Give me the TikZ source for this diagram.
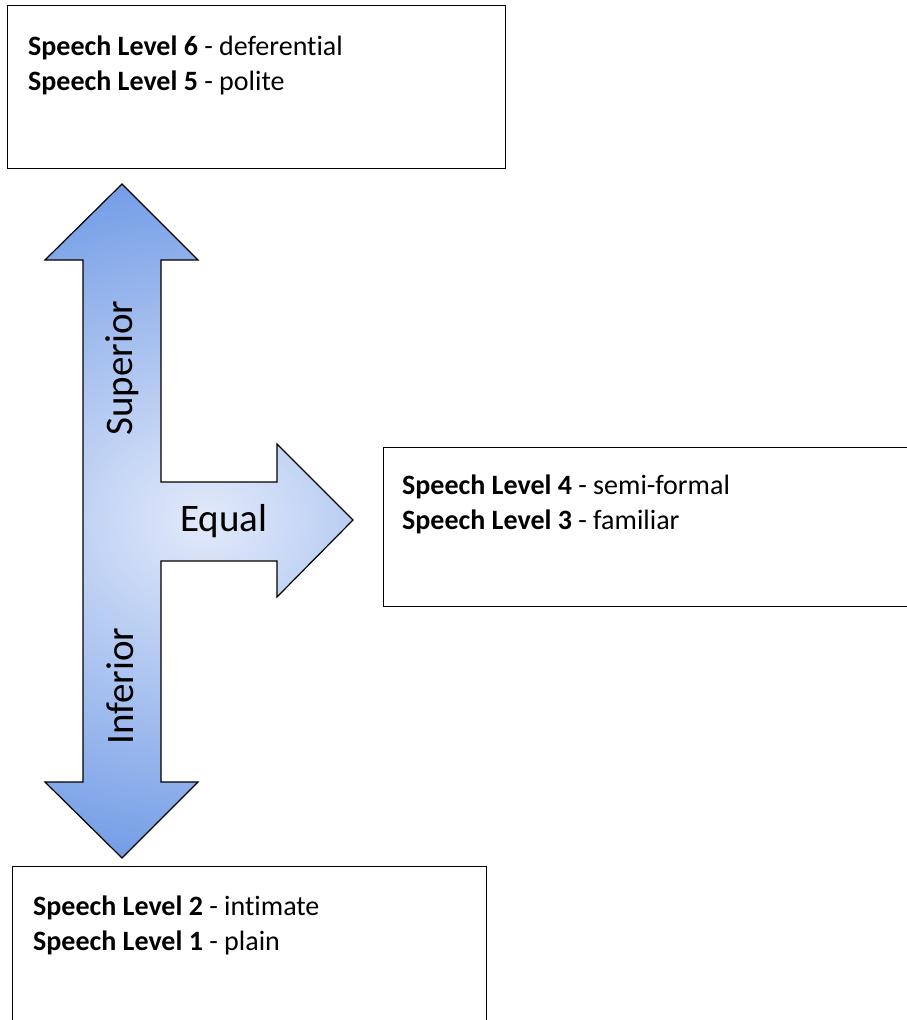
\documentclass[tikz,border=0pt]{standalone}
\usepackage{fontspec}
\setmainfont{Carlito}[Ligatures=NoCommon]
\definecolor{armblue}{RGB}{116,157,230}
\definecolor{armlight}{RGB}{226,234,250}

\tikzset{
  levelbox/.style={draw=black, line width=1.4pt, inner sep=0pt, anchor=north west},
  leveltext/.style={anchor=base west, inner sep=0pt, font=\fontsize{28}{34}\selectfont},
  dirlabel/.style={anchor=base, inner sep=0pt, font=\fontsize{39}{46}\selectfont},
}

\begin{document}
\begin{tikzpicture}[x=1pt, y=-1pt]
		\useasboundingbox[fill=white] (0,0) rectangle (907,1020);
		% the three level boxes
		\node[levelbox, minimum width=498pt, minimum height=163pt] (high) at (7,5) {};
		\node[levelbox, minimum width=540pt, minimum height=159pt] (mid) at (383,447) {};
		\node[levelbox, minimum width=474pt, minimum height=170pt] (low) at (12,866) {};
		\node[leveltext] (high-a) at ([shift={(21,50)}]high.north west) {\textbf{Speech Level 6} - deferential};
		\node[leveltext] (high-b) at ([shift={(0,35)}]high-a.base west) {\textbf{Speech Level 5} - polite};
		\node[leveltext] (mid-a) at ([shift={(19,47)}]mid.north west) {\textbf{Speech Level 4} - semi-formal};
		\node[leveltext] (mid-b) at ([shift={(0,35)}]mid-a.base west) {\textbf{Speech Level 3} - familiar};
		\node[leveltext] (low-a) at ([shift={(21,49)}]low.north west) {\textbf{Speech Level 2} - intimate};
		\node[leveltext] (low-b) at ([shift={(0,35)}]low-a.base west) {\textbf{Speech Level 1} - plain};
		% the three-way arrow
		\draw[line width=1.2pt, line join=miter,
		  path picture={\shade[inner color=armlight, outer color=armblue] (-195,176) rectangle (605,866);}]
		(122,184) -- (198,260) -- (161,260) -- (161,482) -- (277,482) -- (277,444)
		-- (353,520) -- (277,597) -- (277,561) -- (161,561) -- (161,782) -- (198,782)
		-- (122,858) -- (45,782) -- (83,782) -- (83,260) -- (45,260) -- cycle;
		\node[dirlabel, rotate=90] (superior) at (132,368) {Superior};
		\node[dirlabel, rotate=90] (inferior) at (133,686) {Inferior};
		\node[dirlabel] (equal) at (224,531) {Equal};
\end{tikzpicture}
\end{document}
